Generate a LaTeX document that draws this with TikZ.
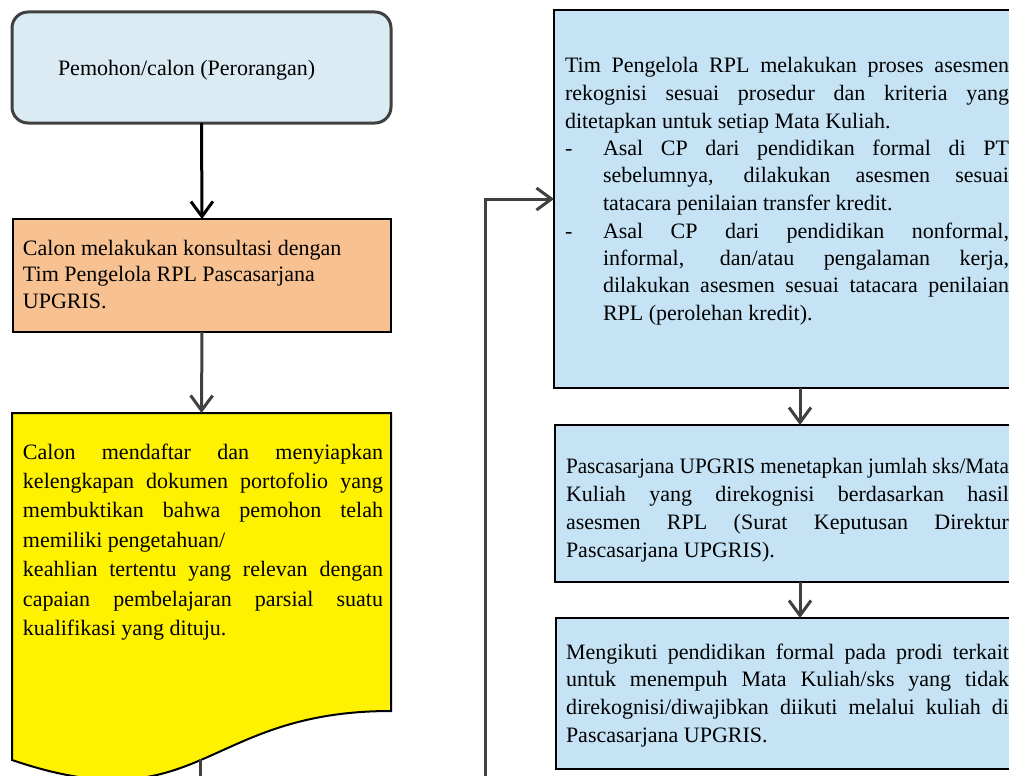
\documentclass[tikz,border=0pt]{standalone}
\usepackage{fontspec}
\setmainfont{Liberation Serif}
\usepackage{graphicx}
\usetikzlibrary{arrows.meta}
\definecolor{topfill}{HTML}{DAEBF3}
\definecolor{orangefill}{HTML}{F8C191}
\definecolor{bluefill}{HTML}{C5E3F5}
\definecolor{lineg}{HTML}{404040}
\newcommand\NS{\spaceskip=0pt\xspaceskip=0pt\relax}
\newcommand\JL[2]{\makebox[#1pt][s]{\NS #2}}
\newcommand\DL{\makebox[38pt][l]{-}}
\newcommand\IN{\hspace*{38pt}}
\begin{document}
\begin{tikzpicture}[x=1pt,y=-1pt,
  box/.style={draw=black, line width=2pt, rectangle, anchor=north west, inner sep=0pt, outer sep=0pt},
  txt/.style={anchor=base west, inner sep=0pt, outer sep=0pt, align=left},
  conn/.style={draw=lineg, line width=3pt, -{Straight Barb[length=15pt,width=22pt]}},
  plain/.style={draw=lineg, line width=3pt}]
\useasboundingbox (0,0) rectangle (1009,776);
\clip (0,0) rectangle (1009,776);
\fill[white] (0,0) rectangle (1009,776);
% left column
\node[box, draw=lineg, line width=3pt, rounded corners=16pt, fill=topfill,
      minimum width=379pt, minimum height=111pt] (top) at (12,12) {};
\node[txt, font=\fontsize{22}{27}\selectfont] (ttop) at (58,75) {\NS Pemohon/calon (Perorangan)};
\node[box, fill=orangefill, minimum width=378pt, minimum height=113pt] (orange) at (13,219) {};
\node[txt, text width=360pt, font=\fontsize{22}{26.5}\selectfont] (torange) at (23,255)
  {\NS Calon melakukan konsultasi dengan\\Tim Pengelola RPL Pascasarjana\\UPGRIS.};
\node[rectangle, inner sep=0pt, outer sep=0pt, minimum width=379pt, minimum height=298pt, anchor=north west] (yellow) at (12,413) {};
\draw[line width=2pt, fill=yellow] (yellow.north west) -- (yellow.north east) -- (yellow.south east)
  .. controls (201.5,711) and (201.5,824.5) .. (12,760) -- cycle;
\node[txt, text width=360pt, font=\fontsize{22}{29.4}\selectfont] (tyellow) at (23,459)
  {\NS\JL{360}{Calon mendaftar dan menyiapkan}\\
   \JL{360}{kelengkapan dokumen portofolio yang}\\
   \JL{360}{membuktikan bahwa pemohon telah}\\
   memiliki pengetahuan/\\
   \JL{360}{keahlian tertentu yang relevan dengan}\\
   \JL{360}{capaian pembelajaran parsial suatu}\\
   kualifikasi yang dituju.};
\coordinate (ydoc) at (200,759);
\coordinate (yout) at (200,800);
\coordinate (lbot) at (485,800);
% right column
\node[box, fill=bluefill, minimum width=492pt, minimum height=378pt] (boxA) at (554,10) {};
\node[box, fill=bluefill, minimum width=490pt, minimum height=157pt] (boxB) at (555,425) {};
\node[box, fill=bluefill, minimum width=488pt, minimum height=151pt] (boxC) at (556,618) {};
\node[txt, text width=444pt, font=\fontsize{22}{27.5}\selectfont] (tA) at (565,73)
  {\NS\JL{444}{Tim Pengelola RPL melakukan proses asesmen}\\
   \JL{444}{rekognisi sesuai prosedur dan kriteria yang}\\
   ditetapkan untuk setiap Mata Kuliah.\\
   \DL\JL{406}{Asal CP dari pendidikan formal di PT}\\
   \IN\JL{406}{sebelumnya, dilakukan asesmen sesuai}\\
   \IN tatacara penilaian transfer kredit.\\
   \DL\JL{406}{Asal CP dari pendidikan nonformal,}\\
   \IN\JL{406}{informal, dan/atau pengalaman kerja,}\\
   \IN\JL{406}{dilakukan asesmen sesuai tatacara penilaian}\\
   \IN RPL (perolehan kredit).};
\node[txt, text width=444pt, font=\fontsize{22}{28}\selectfont] (tB) at (566,473)
  {\NS\resizebox{443pt}{\height}{\NS Pascasarjana UPGRIS menetapkan jumlah sks/Mata}\\
   \JL{443}{Kuliah yang direkognisi berdasarkan hasil}\\
   \JL{443}{asesmen RPL (Surat Keputusan Direktur}\\
   Pascasarjana UPGRIS).};
\node[txt, text width=444pt, font=\fontsize{22}{27.7}\selectfont] (tC) at (566,659)
  {\NS\JL{443}{Mengikuti pendidikan formal pada prodi terkait}\\
   \JL{443}{untuk menempuh Mata Kuliah/sks yang tidak}\\
   \JL{443}{direkognisi/diwajibkan diikuti melalui kuliah di}\\
   Pascasarjana UPGRIS.};
% connectors
\draw[conn, draw=black] (top.south) -- (orange.north);
\draw[conn] (orange.south) -- (yellow.north);
\draw[plain] (ydoc) -- (yout);
\draw[conn] (lbot) |- (boxA.west);
\draw[conn] (boxA.south) -- (boxB.north);
\draw[conn] (boxB.south) -- (boxC.north);
\end{tikzpicture}
\end{document}
